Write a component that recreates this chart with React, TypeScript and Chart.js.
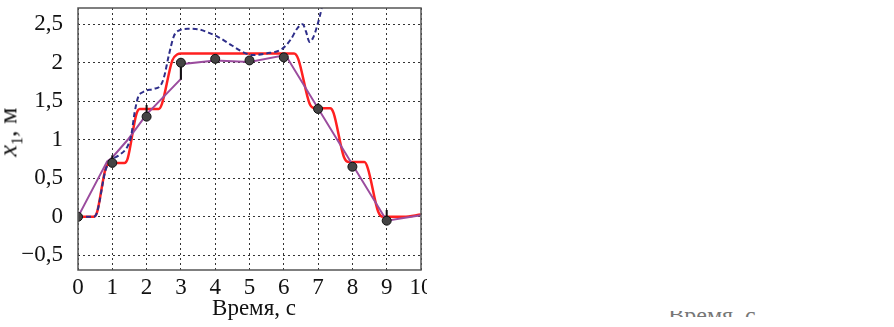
import React, { useEffect, useRef } from "react";
import { Chart, registerables } from "chart.js";

Chart.register(...registerables);

// Red trajectory (smoothed step profile)
const redT = [0, 0.45, 0.55, 0.8, 0.9, 1.0, 1.35, 1.45, 1.7, 1.8, 2.35, 2.45, 2.75, 2.9, 3.0, 6.3, 6.42, 6.75, 6.9, 7.35, 7.45, 7.75, 7.9, 8.35, 8.45, 8.75, 8.9, 9.5, 10];
const redV = [0, 0, 0.05, 0.62, 0.69, 0.7, 0.7, 0.76, 1.33, 1.4, 1.4, 1.47, 2.03, 2.11, 2.12, 2.12, 2.05, 1.47, 1.41, 1.41, 1.35, 0.78, 0.71, 0.71, 0.63, 0.07, 0.0, 0.0, 0.03];

// Purple piecewise-linear estimate
const purpleT = [0, 0.85, 1.0, 1.45, 2.0, 2.5, 3.0, 3.0, 4.0, 5.0, 6.05, 9.0, 10];
const purpleV = [0, 0.72, 0.77, 1.0, 1.33, 1.56, 1.79, 1.98, 2.03, 2.01, 2.1, -0.05, 0.02];

// Blue dashed curve
const blueT = [0, 0.45, 0.55, 0.8, 0.9, 1.0, 1.2, 1.45, 1.55, 1.65, 1.75, 1.9, 2.2, 2.4, 2.5, 2.65, 2.8, 2.95, 3.2, 3.55, 3.8, 4.1, 4.5, 4.8, 5.1, 5.5, 5.95, 6.2, 6.4, 6.55, 6.65, 6.75, 6.85, 7.0, 7.1, 7.2];
const blueV = [0, 0, 0.05, 0.6, 0.7, 0.75, 0.8, 0.92, 1.05, 1.35, 1.55, 1.62, 1.66, 1.7, 1.8, 2.1, 2.35, 2.42, 2.44, 2.43, 2.39, 2.33, 2.22, 2.14, 2.1, 2.12, 2.18, 2.3, 2.45, 2.5, 2.4, 2.27, 2.32, 2.52, 2.7, 2.95];

// Measured points with error bars
const markerT = [0, 1, 2, 3, 4, 5, 6, 7, 8, 9];
const markerV = [0, 0.7, 1.3, 2.0, 2.05, 2.03, 2.07, 1.4, 0.65, -0.05];
const errLo = [0, 0.68, 1.3, 1.78, 2.03, 2.01, 2.05, 1.38, 0.63, -0.05];
const errHi = [0, 0.8, 1.45, 2.0, 2.07, 2.05, 2.12, 1.47, 0.68, 0.09];

const xTicks = [0, 1, 2, 3, 4, 5, 6, 7, 8, 9, 10];
const yTicks = [-0.5, 0, 0.5, 1, 1.5, 2, 2.5];

const FONT = "'Liberation Serif', 'Times New Roman', serif";

const zip = (xs: number[], ys: number[]) => xs.map((x, i) => ({ x, y: ys[i] }));

export default function App() {
  const ref = useRef<HTMLCanvasElement | null>(null);
  useEffect(() => {
    if (!ref.current) return;
    const errData: { x: number; y: number | null }[] = [];
    markerT.forEach((t, i) => {
      errData.push({ x: t, y: errLo[i] });
      errData.push({ x: t, y: errHi[i] });
      errData.push({ x: t, y: null });
    });
    const framePlugin = {
      id: "frame",
      afterDatasetsDraw(chart: any) {
        const { ctx, chartArea: a } = chart;
        ctx.save();
        ctx.strokeStyle = "#555";
        ctx.lineWidth = 1.5;
        ctx.setLineDash([]);
        ctx.strokeRect(a.left, a.top, a.right - a.left, a.bottom - a.top);
        ctx.restore();
      },
    };
    const chart = new Chart(ref.current, {
      type: "line",
      data: {
        datasets: [
          {
            data: zip(redT, redV),
            borderColor: "#ff2020",
            borderWidth: 2.5,
            pointRadius: 0,
            cubicInterpolationMode: "monotone",
            order: 3,
          },
          {
            data: zip(purpleT, purpleV),
            borderColor: "#9b4c9e",
            borderWidth: 2,
            pointRadius: 0,
            tension: 0,
            order: 2,
          },
          {
            data: zip(blueT, blueV),
            borderColor: "#2e2e8a",
            borderWidth: 2,
            borderDash: [5, 3],
            pointRadius: 0,
            cubicInterpolationMode: "monotone",
            order: 1,
          },
          {
            data: errData,
            borderColor: "#111",
            borderWidth: 2,
            pointRadius: 0,
            tension: 0,
            spanGaps: false,
            order: 0,
          },
          {
            data: zip(markerT, markerV),
            showLine: false,
            pointRadius: 4.5,
            pointBackgroundColor: "#444",
            pointBorderColor: "#111",
            pointBorderWidth: 1,
            order: -1,
          },
        ] as any,
      },
      options: {
        animation: false,
        responsive: false,
        devicePixelRatio: 1,
        layout: { padding: { top: 8, right: 11, left: 0, bottom: 0 } },
        plugins: { legend: { display: false }, tooltip: { enabled: false } },
        scales: {
          x: {
            type: "linear",
            min: 0,
            max: 10,
            afterBuildTicks: (s: any) => {
              s.ticks = xTicks.map((v) => ({ value: v }));
            },
            afterFit: (s: any) => {
              s.height = 57;
              s.paddingLeft = 0;
              s.paddingRight = 0;
              s.paddingTop = 0;
              s.paddingBottom = 0;
            },
            ticks: {
              color: "#111",
              font: { family: FONT, size: 23 },
              padding: 4,
              maxRotation: 0,
              autoSkip: false,
            },
            grid: { color: "#333", lineWidth: 1, drawTicks: false, borderDash: [2, 3] } as any,
            border: { display: false, dash: [2, 3] },
          },
          y: {
            type: "linear",
            min: -0.69,
            max: 2.71,
            afterBuildTicks: (s: any) => {
              s.ticks = yTicks.map((v) => ({ value: v }));
            },
            afterFit: (s: any) => {
              s.width = 78;
              s.paddingTop = 0;
              s.paddingBottom = 0;
              s.paddingLeft = 0;
              s.paddingRight = 0;
            },
            ticks: {
              color: "#111",
              font: { family: FONT, size: 23 },
              padding: 15,
              callback: (v: any) => String(v).replace(".", ",").replace("-", "\u2212"),
            },
            grid: { color: "#333", lineWidth: 1, drawTicks: false, borderDash: [2, 3] } as any,
            border: { display: false, dash: [2, 3] },
          },
        },
      },
      plugins: [framePlugin],
    });
    return () => chart.destroy();
  }, []);

  return (
    <div style={{ position: "absolute", left: 0, top: 0, width: 894, height: 327, background: "#fff", overflow: "hidden" }}>
      <div style={{ position: "absolute", left: 0, top: 0, width: 427, height: 327, overflow: "hidden" }}>
        <canvas ref={ref} width={432} height={327} style={{ width: 432, height: 327 }} />
      </div>
      <div
        style={{
          position: "absolute",
          left: 194,
          top: 296,
          width: 120,
          textAlign: "center",
          fontFamily: FONT,
          fontSize: 23,
          lineHeight: "24px",
          color: "#111",
          whiteSpace: "nowrap",
        }}
      >
        Время, с
      </div>
      <div
        style={{
          position: "absolute",
          left: 13,
          top: 132,
          transform: "translate(-50%, -50%) rotate(-90deg)",
          fontFamily: FONT,
          fontSize: 26,
          lineHeight: "28px",
          color: "#111",
          whiteSpace: "nowrap",
        }}
      >
        <i>x</i>
        <sub style={{ fontSize: 16 }}>1</sub>, м
      </div>
      <div style={{ position: "absolute", left: 657, top: 311, width: 110, height: 6, overflow: "hidden" }}>
        <div
          style={{
            position: "absolute",
            left: 0,
            top: -8,
            width: 110,
            textAlign: "center",
            fontFamily: FONT,
            fontSize: 24,
            lineHeight: "24px",
            color: "#777",
            whiteSpace: "nowrap",
          }}
        >
          Время, с
        </div>
      </div>
    </div>
  );
}
